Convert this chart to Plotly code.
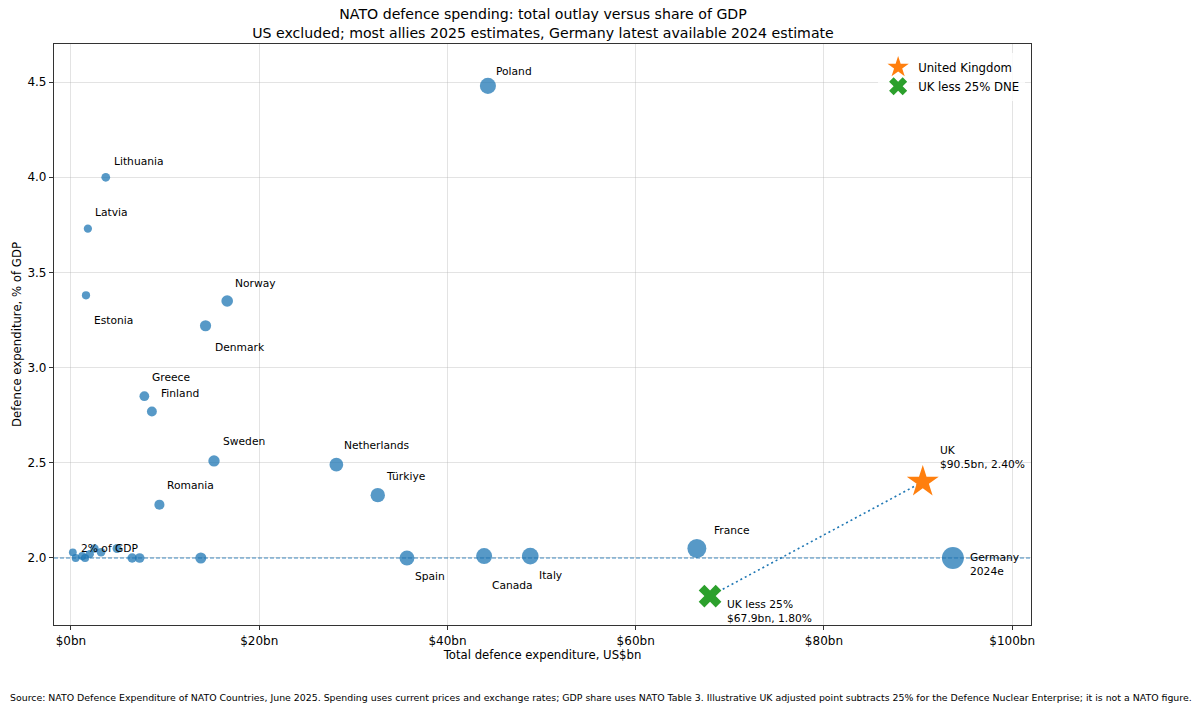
import numpy as np
import plotly.graph_objects as go

# ---- data ----
labelled_countries = ["Poland", "Lithuania", "Latvia", "Estonia", "Norway", "Denmark",
                      "Greece", "Finland", "Sweden", "Netherlands", "Türkiye", "Romania",
                      "France", "Germany", "Spain", "Canada", "Italy"]
labelled_spend_bn = [44.3, 3.7, 1.8, 1.6, 16.6, 14.3, 7.8, 8.6, 15.2, 28.2, 32.6, 9.4,
                     66.5, 93.7, 35.7, 43.9, 48.8]
labelled_gdp_pct = [4.48, 4.00, 3.73, 3.38, 3.35, 3.22, 2.85, 2.77, 2.51, 2.49, 2.33, 2.28,
                    2.05, 2.00, 2.00, 2.01, 2.01]
label_texts = ["Poland", "Lithuania", "Latvia", "Estonia", "Norway", "Denmark", "Greece",
               "Finland", "Sweden", "Netherlands", "Türkiye", "Romania", "France",
               "Germany<br>2024e", "Spain", "Canada", "Italy"]

other_countries = ["Montenegro", "North Macedonia", "Slovenia", "Luxembourg", "Croatia",
                   "Slovakia", "Hungary", "Czechia", "Portugal", "Belgium", "Albania"]
other_spend_bn = [0.2, 0.5, 1.5, 2.0, 2.5, 3.2, 4.9, 6.5, 7.3, 13.8, 1.2]
other_gdp_pct = [2.03, 2.00, 2.00, 2.02, 2.05, 2.03, 2.05, 2.00, 2.00, 2.00, 2.01]

uk_spend_bn = 90.5
uk_gdp_pct = 2.40
uk_adj_spend_bn = 67.9
uk_adj_gdp_pct = 1.80

x_tick_vals = [0, 20, 40, 60, 80, 100]
x_tick_text = ["$0bn", "$20bn", "$40bn", "$60bn", "$80bn", "$100bn"]
y_tick_vals = [2.0, 2.5, 3.0, 3.5, 4.0, 4.5]
y_tick_text = ["2.0", "2.5", "3.0", "3.5", "4.0", "4.5"]

# ---- styles ----
BLUE = "#1f77b4"
FONT = "DejaVu Sans"
label_shift = {  # (xshift px, yshift px)
    "Poland": (6, 14), "Lithuania": (6, 16), "Latvia": (5, 16), "Estonia": (6, -25),
    "Norway": (6, 18), "Denmark": (7, -22), "Greece": (6, 19), "Finland": (7, 18),
    "Sweden": (7, 19), "Netherlands": (6, 19), "Türkiye": (6, 19), "Romania": (6, 19),
    "France": (15, 18), "Germany": (15, -7), "Spain": (6, -19), "Canada": (6, -29),
    "Italy": (7, -19),
}


def diam(v):
    return list(np.sqrt(60 + 4.5 * np.asarray(v)))


fig = go.Figure()

# 2% reference line (drawn over the markers, as in the reference)
fig.add_hline(y=2.0, line=dict(color="rgba(31,119,180,0.85)", width=1.2, dash="4px,2px"),
              layer="above")

# dotted connector between UK and UK adjusted
fig.add_trace(go.Scatter(x=[uk_spend_bn, uk_adj_spend_bn], y=[uk_gdp_pct, uk_adj_gdp_pct],
                         mode="lines", line=dict(color=BLUE, width=1.6, dash="2px,3px"),
                         showlegend=False, hoverinfo="skip"))

fig.add_trace(go.Scatter(x=other_spend_bn, y=other_gdp_pct, mode="markers",
                         marker=dict(color=BLUE, opacity=0.75, size=diam(other_spend_bn),
                                     line=dict(width=0)),
                         text=other_countries, showlegend=False))
fig.add_trace(go.Scatter(x=labelled_spend_bn, y=labelled_gdp_pct, mode="markers",
                         marker=dict(color=BLUE, opacity=0.75, size=diam(labelled_spend_bn),
                                     line=dict(width=0)),
                         text=labelled_countries, showlegend=False))

fig.add_trace(go.Scatter(x=[uk_spend_bn], y=[uk_gdp_pct], mode="markers", name="United Kingdom",
                         marker=dict(symbol="star", color="#ff7f0e", size=24, line=dict(width=0))))
fig.add_trace(go.Scatter(x=[uk_adj_spend_bn], y=[uk_adj_gdp_pct], mode="markers",
                         name="UK less 25% DNE",
                         marker=dict(symbol="x", color="#2ca02c", size=20, line=dict(width=0))))

ann_font = dict(family=FONT, size=10.7, color="black")
for name, xv, yv, txt in zip(labelled_countries, labelled_spend_bn, labelled_gdp_pct, label_texts):
    dx, dy = label_shift[name]
    fig.add_annotation(x=xv, y=yv, text=txt, showarrow=False, xanchor="left",
                       yanchor="middle", align="left", xshift=dx, yshift=dy, font=ann_font)

fig.add_annotation(x=uk_spend_bn, y=uk_gdp_pct, showarrow=False, xanchor="left", yanchor="middle",
                   align="left", xshift=15, yshift=24, font=ann_font,
                   text=f"UK<br>${uk_spend_bn:.1f}bn, {uk_gdp_pct:.2f}%")
fig.add_annotation(x=uk_adj_spend_bn, y=uk_adj_gdp_pct, showarrow=False, xanchor="left",
                   yanchor="middle", align="left", xshift=15, yshift=-15, font=ann_font,
                   text=f"UK less 25%<br>${uk_adj_spend_bn:.1f}bn, {uk_adj_gdp_pct:.2f}%")
fig.add_annotation(x=1.2, y=2.0, showarrow=False, xanchor="left", yanchor="middle",
                   xshift=-3, yshift=9, text="2% of GDP", font=ann_font)

fig.add_annotation(xref="paper", yref="paper", x=-0.047, y=-0.124, xanchor="left",
                   yanchor="middle", showarrow=False,
                   text="Source: NATO Defence Expenditure of NATO Countries, June 2025. Spending uses current prices and exchange rates; GDP share uses NATO Table 3. Illustrative UK adjusted point subtracts 25% for the Defence Nuclear Enterprise; it is not a NATO figure.",
                   font=dict(family=FONT, size=9.4, color="black"))

fig.update_layout(
    width=1200, height=713,
    margin=dict(l=54, r=169, t=44, b=88, autoexpand=False),
    paper_bgcolor="white", plot_bgcolor="white",
    font=dict(family=FONT, size=12, color="black"),
    title=dict(text="NATO defence spending: total outlay versus share of GDP<br>US excluded; most allies 2025 estimates, Germany latest available 2024 estimate",
               x=0.4525, xanchor="center", y=0.973, yanchor="top",
               font=dict(family=FONT, size=14.15, color="black")),
    legend=dict(x=0.994, xanchor="right", y=0.985, yanchor="top", bgcolor="rgba(255,255,255,0.8)",
                font=dict(family=FONT, size=11.7), itemsizing="trace", tracegroupgap=0,
                itemwidth=30),
    showlegend=True,
)
fig.update_xaxes(range=[-1.8, 102.0], tickvals=x_tick_vals, ticktext=x_tick_text,
                 showgrid=True, gridcolor="rgba(176,176,176,0.35)", gridwidth=1,
                 showline=True, linecolor="#333", linewidth=1.2, mirror=True,
                 ticks="outside", ticklen=4, tickcolor="#333", zeroline=False, automargin=False,
                 title=dict(text="Total defence expenditure, US$bn", font=dict(size=11.7), standoff=4),
                 tickfont=dict(size=12))
fig.update_yaxes(range=[1.648, 4.70], tickvals=y_tick_vals, ticktext=y_tick_text,
                 showgrid=True, gridcolor="rgba(176,176,176,0.35)", gridwidth=1,
                 showline=True, linecolor="#333", linewidth=1.2, mirror=True,
                 ticks="outside", ticklen=4, tickcolor="#333", zeroline=False, automargin=False,
                 title=dict(text="Defence expenditure, % of GDP", font=dict(size=11.7), standoff=3),
                 tickfont=dict(size=12))

fig.write_html("out.html", config={"displayModeBar": False},
               post_script="document.body.style.margin='0px';")
